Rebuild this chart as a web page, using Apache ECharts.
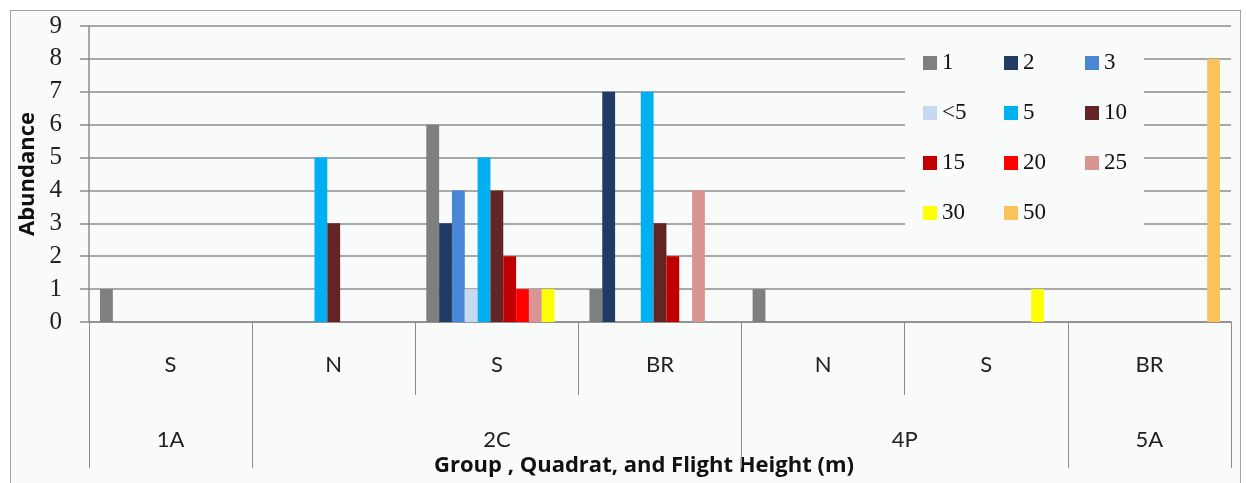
<!DOCTYPE html>
<html>
<head>
<meta charset="utf-8">
<script src="https://cdn.jsdelivr.net/npm/echarts@6/dist/echarts.min.js"></script>
<style>
  html, body { margin: 0; padding: 0; background: #ffffff; }
  #frame { position: absolute; left: 10px; top: 10px; width: 1229px; height: 500px;
           border: 1.5px solid #a3a3a3; background: #f9fafa; }
  #chart { position: absolute; left: 0; top: 0; width: 1247px; height: 483px; }
</style>
</head>
<body>
<div id="frame"></div>
<div id="chart"></div>
<script>
// ---- data ----
const categories = ['S', 'N', 'S', 'BR', 'N', 'S', 'BR'];
const groups = ['1A', '2C', '4P', '5A'];
const groupSpans = [1, 3, 2, 1];
const heights = ['1', '2', '3', '<5', '5', '10', '15', '20', '25', '30', '50'];
const h1   = [1, 0, 6, 1, 1, 0, 0];
const h2   = [0, 0, 3, 7, 0, 0, 0];
const h3   = [0, 0, 4, 0, 0, 0, 0];
const hLt5 = [0, 0, 1, 0, 0, 0, 0];
const h5   = [0, 5, 5, 7, 0, 0, 0];
const h10  = [0, 3, 4, 3, 0, 0, 0];
const h15  = [0, 0, 2, 2, 0, 0, 0];
const h20  = [0, 0, 1, 0, 0, 0, 0];
const h25  = [0, 0, 1, 4, 0, 0, 0];
const h30  = [0, 0, 1, 0, 0, 1, 0];
const h50  = [0, 0, 0, 0, 0, 0, 8];
const seriesValues = [h1, h2, h3, hLt5, h5, h10, h15, h20, h25, h30, h50];
const colors = ['#7f7f7f', '#213a66', '#4a86d6', '#c6d9f1', '#00b0f0', '#632523',
                '#c00000', '#ff0000', '#d99594', '#ffff00', '#fcc35a'];
const yMin = 0, yMax = 9, yStep = 1;

// group boundaries and label centres (in half-category units)
const groupStarts = [];
const groupCentres = {};
let acc = 0;
groups.forEach((g, i) => {
  groupStarts.push(acc);
  groupCentres[2 * acc + groupSpans[i]] = g;
  acc += groupSpans[i];
});

const gridColor = '#8c8c8c';
const chart = echarts.init(document.getElementById('chart'));
chart.setOption({
  backgroundColor: 'transparent',
  animation: false,
  color: colors,
  grid: { left: 89, right: 16, top: 26, bottom: 161, containLabel: false },
  legend: {
    left: 905, top: 39, width: 240,
    orient: 'horizontal',
    itemWidth: 14, itemHeight: 14, itemGap: 22,
    icon: 'rect',
    padding: [10, 0, 10, 18],
    backgroundColor: '#f9fafa',
    data: heights,
    textStyle: { fontFamily: 'Liberation Serif', fontSize: 23, color: '#111',
                 width: 40, height: 28, lineHeight: 28 }
  },
  xAxis: [
    {
      type: 'category', data: categories, position: 'bottom',
      axisLine: { show: true, lineStyle: { color: gridColor, width: 1.5 } },
      axisTick: { show: true, interval: 0, length: 73, lineStyle: { color: gridColor, width: 1 } },
      axisLabel: { interval: 0, margin: 32, fontFamily: 'Lato', fontSize: 22, color: '#222' },
      name: 'Group , Quadrat, and Flight Height (m)',
      nameLocation: 'middle', nameGap: 133,
      nameTextStyle: { fontFamily: 'Open Sans', fontWeight: 'bold', fontSize: 22, color: '#111',
                       padding: [0, 32, 0, 0] }
    },
    {
      type: 'category', data: categories, position: 'bottom',
      axisLine: { show: false },
      axisTick: { show: true, length: 146, lineStyle: { color: gridColor, width: 1 },
                  interval: (idx) => groupStarts.indexOf(idx) >= 0 },
      axisLabel: { show: false },
      splitLine: { show: false }
    },
    {
      type: 'value', min: 0, max: 2 * categories.length, interval: 1, position: 'bottom',
      axisLine: { show: false }, axisTick: { show: false }, splitLine: { show: false },
      axisLabel: { margin: 107, fontFamily: 'Lato', fontSize: 22, color: '#222',
                   showMinLabel: true, showMaxLabel: true,
                   formatter: (v) => groupCentres[v] || '' }
    }
  ],
  yAxis: {
    type: 'value', min: yMin, max: yMax, interval: yStep,
    axisLine: { show: true, lineStyle: { color: gridColor, width: 1.5 } },
    axisTick: { show: true, length: 9, lineStyle: { color: gridColor, width: 1.5 } },
    splitLine: { show: true, lineStyle: { color: gridColor, width: 1.5 } },
    axisLabel: { margin: 27, fontFamily: 'Liberation Serif', fontSize: 25, color: '#222' },
    name: 'Abundance', nameLocation: 'middle', nameGap: 49, nameRotate: 90,
    nameTextStyle: { fontFamily: 'Open Sans', fontWeight: 'bold', fontSize: 22, color: '#111' }
  },
  series: heights.map((h, i) => ({
    name: h, type: 'bar', xAxisIndex: 0,
    data: seriesValues[i],
    barGap: '0%', barCategoryGap: '13.5%',
    itemStyle: { color: colors[i] }
  }))
});
</script>
</body>
</html>
